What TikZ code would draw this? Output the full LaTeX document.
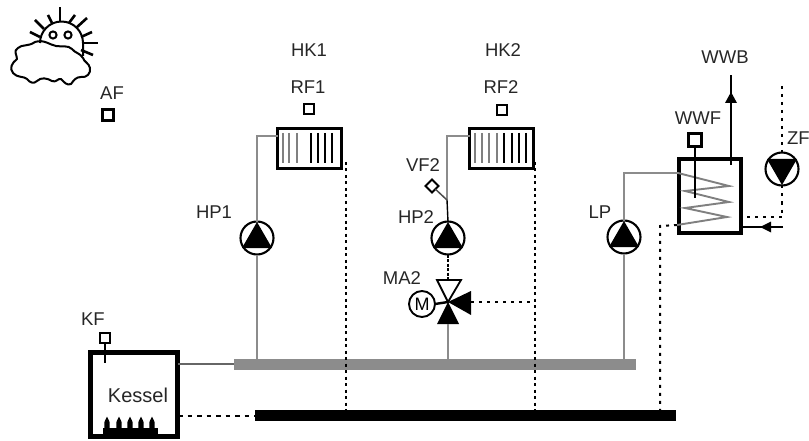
\documentclass[tikz,border=0pt]{standalone}
\usepackage{fontspec}
\setmainfont{Liberation Sans}
\usetikzlibrary{shapes.geometric,arrows.meta}
\tikzset{
  lab/.style={inner sep=0pt,outer sep=0pt,font=\fontsize{18.5}{20}\selectfont,text=black!85},
  sensor/.style={draw=black,line width=2.2pt,fill=white,minimum size=10pt,inner sep=0pt,outer sep=0pt},
  radbox/.style={draw=black,line width=2.4pt,fill=white,minimum width=64pt,minimum height=40pt,inner sep=0pt,outer sep=0pt},
  pumpc/.style={circle,draw=black,line width=2.1pt,fill=white,minimum size=33pt,inner sep=0pt,outer sep=0pt},
  pipe/.style={draw=black!45,line width=2.3pt},
  thinblk/.style={draw=black,line width=1.4pt},
  ctrl/.style={draw=black,line width=2pt,dash pattern=on 4.5pt off 5pt},
  fin/.style={draw=black,line width=1.3pt},
  finG/.style={draw=black!50,line width=1.3pt},
  sunline/.style={draw=black,line width=2pt,line join=round},
}
\newcommand{\pumpU}[3]{\node[pumpc] (#1) at (#2,#3) {};
  \fill[black] (#2,#3-16) -- (#2+15,#3+10) -- (#2-15,#3+10) -- cycle;}
\newcommand{\pumpD}[3]{\node[pumpc] (#1) at (#2,#3) {};
  \fill[black] (#2,#3+16) -- (#2+15,#3-10) -- (#2-15,#3-10) -- cycle;}
\begin{document}
\begin{tikzpicture}[x=1pt,y=-1pt]
\useasboundingbox (0,0) rectangle (809,441);
% sun and cloud
\draw[sunline] (40,43) arc[start angle=180,end angle=360,radius=21.5] -- (83,56);
\foreach \xa/\ya/\xb/\yb in {60/21/60/7,52/23/48/15,44/29/35/20,40/37/30/32,69/23/75/15,76/28/87/18,81/37/92/32,83/43/98/43,81/50/93/55}
  \draw[sunline,line width=2.6pt] (\xa,\ya) -- (\xb,\yb);
\draw[sunline] (53,35) circle[radius=3.6] (68,35) circle[radius=3.6];
\draw[sunline] (35,42) .. controls (28,47) and (22,44) .. (18,48) .. controls (13,51) and (17,55) .. (17,59)
  .. controls (12,63) and (9,68) .. (13,73) .. controls (17,78) and (24,76) .. (27,79)
  .. controls (30,83) and (34,84) .. (37,81) .. controls (41,77) and (47,78) .. (52,81)
  .. controls (56,83) and (58,78) .. (61,79) .. controls (64,82) and (67,86) .. (71,84)
  .. controls (74,80) and (76,77) .. (81,77) .. controls (87,78) and (91,73) .. (90,68)
  .. controls (89,63) and (84,62) .. (83,58) .. controls (80,53) and (75,53) .. (72,49)
  .. controls (68,45) and (62,47) .. (56,46) .. controls (50,45) and (44,39) .. (35,42) -- cycle;
% outside sensor
\node[lab] (af) at (112,93) {AF};
\node[sensor,minimum size=11pt] (afs) at (108,115) {};
% labels
\node[lab] (hk1) at (309,50) {HK1};
\node[lab] (hk2) at (503,50) {HK2};
\node[lab] (rf1) at (308,87) {RF1};
\node[lab] (rf2) at (501,87) {RF2};
\node[sensor] (rf1s) at (309,109) {};
\node[sensor] (rf2s) at (502,110) {};
\node[lab] (hp1l) at (214,212) {HP1};
\node[lab] (hp2l) at (416,217) {HP2};
\node[lab] (vf2l) at (423,165) {VF2};
\node[lab] (ma2l) at (402,278) {MA2};
\node[lab] (lpl) at (600,212) {LP};
\node[lab] (wwfl) at (698,118) {WWF};
\node[lab] (wwbl) at (725,57) {WWB};
\node[lab,anchor=west] (zfl) at (787,138) {ZF};
\node[lab,anchor=west] (kfl) at (81,319) {KF};
% buses
\node[fill=black!45,minimum width=402pt,minimum height=11pt,inner sep=0pt,outer sep=0pt] (bus) at (435,364.5) {};
\node[fill=black,minimum width=421pt,minimum height=11pt,inner sep=0pt,outer sep=0pt] (bar) at (465.5,415.5) {};
% radiators
\node[radbox] (rad1) at (309.5,148.5) {};
\node[radbox] (rad2) at (501.5,148.5) {};
\foreach \x in {283,289,297}\draw[finG] (\x,133) -- (\x,163);
\foreach \x in {311,318,325,332}\draw[fin] (\x,133) -- (\x,163);
\foreach \x in {475,482,489,497}\draw[finG] (\x,133) -- (\x,163);
\foreach \x in {504,512,519,526}\draw[fin] (\x,133) -- (\x,163);
% pumps
\pumpU{hp1}{257}{238}
\pumpU{hp2}{448}{238}
\pumpU{lp}{624}{237}
\pumpD{zp}{782}{169}
% HK1 piping
\coordinate (c1) at (257,136);
\draw[pipe] (hp1.north) -- (c1) -- (c1 -| rad1.west);
\draw[pipe] (hp1.south) -- (hp1.south |- bus.north);
% mixing valve
\coordinate (vc) at (448,302);
\node[circle,draw=black,line width=1.9pt,fill=white,minimum size=26pt,inner sep=0pt,outer sep=0pt,font=\fontsize{18}{20}\selectfont] (mot) at (422,304) {M};
\draw[line width=2.4pt] (mot.east) -- (vc);
\draw[black,line width=1.8pt,fill=white,line join=miter] (vc) -- (461,280) -- (437,280) -- cycle;
\fill[black] (vc) -- (459,324) -- (437,324) -- cycle;
\fill[black] (vc) -- (471,291) -- (471,315) -- cycle;
\coordinate (vt) at (448,280);
\coordinate (vb) at (448,324);
\coordinate (vr) at (471,302);
% HK2 piping
\coordinate (c2) at (447,136);
\coordinate (c2b) at (447,200);
\draw[pipe] (c2b) -- (c2) -- (c2 -| rad2.west);
\draw[thinblk] (c2b) -- (hp2.north);
\draw[black,line width=1.3pt,dash pattern=on 3pt off 1.5pt] (hp2.south) -- (vt);
\draw[pipe] (vb) -- (vb |- bus.north);
\node[diamond,draw=black,line width=2pt,fill=white,minimum size=13pt,inner sep=0pt,outer sep=0pt] (vf2) at (432,186) {};
\draw[black!70,line width=1.5pt] (vf2) -- (c2b);
\draw[ctrl,dash pattern=on 3pt off 5pt] (vr) -- (vr -| rad2.east);
% return dotted lines
\coordinate (r1) at (346,162);
\coordinate (r2) at (535,162);
\draw[ctrl,dash pattern=on 3pt off 3.5pt] (r1) -- (r1 |- bar.north);
\draw[ctrl,dash pattern=on 3pt off 3.5pt] (r2) -- (r2 |- bar.north);
% boiler
\node[draw=black,line width=5pt,fill=white,minimum width=87pt,minimum height=84pt,inner sep=0pt,outer sep=0pt] (kessel) at (133.5,394) {};
\node[lab,font=\fontsize{20}{22}\selectfont] (ktext) at (138,395) {Kessel};
\node[sensor,minimum size=10pt] (kfs) at (105,338) {};
\draw[black,line width=1.6pt] (kfs.south) -- (105,363);
\fill[black] (103,428) -- (158,428) -- (158,436) -- (103,436) -- cycle;
\foreach \x in {107,119,130,141,152}
  \fill[black] (\x-2.6,429) -- (\x-2.6,422) -- (\x,416.5) -- (\x+2.6,422) -- (\x+2.6,429) -- cycle;
\coordinate (kout) at (178,364);
\draw[black!60,line width=1.4pt] (kout) -- (kout -| bus.west);
\coordinate (kret) at (178,415.5);
\draw[ctrl] (kret) -- (kret -| bar.west);
% tank
\node[draw=black,line width=3.8pt,fill=white,minimum width=62pt,minimum height=74pt,inner sep=0pt,outer sep=0pt] (tank) at (710,196) {};
\coordinate (c3) at (623,173);
\draw[pipe] (lp.north) -- (lp.north |- c3) -- (678,173);
\draw[pipe] (lp.south) -- (lp.south |- bus.north);
\draw[draw=black!50,line width=1.9pt] (678,173) -- (729,186) -- (685,191) -- (729,202) -- (685,208) -- (727,217) -- (677,225);
\node[sensor,minimum size=13pt] (wwfs) at (695,140) {};
\draw[black,line width=1.6pt] (wwfs.south) -- (695,198);
\coordinate (t1) at (660,226);
\draw[ctrl,dash pattern=on 3pt off 5pt] (677,225) -- (t1) -- (t1 |- bar.north);
% WWB
\coordinate (wwbtop) at (731,75);
\coordinate (wwbin) at (731,165);
\draw[black,line width=2pt] (wwbin) -- (wwbtop);
\fill[black] (731,92) -- (737,103) -- (725,103) -- cycle;
% ZP
\coordinate (z0) at (782,86);
\coordinate (z1) at (782,217);
\draw[ctrl,dash pattern=on 3pt off 5pt] (z0) -- (zp.north);
\draw[ctrl,dash pattern=on 3pt off 5pt] (zp.south) -- (z1) -- (742,217);
% cold inlet
\coordinate (cw) at (783,227);
\coordinate (cwi) at (742,227);
\draw[black,line width=2.2pt] (cw) -- (cwi);
\fill[black] (760,227) -- (771,221.5) -- (771,232.5) -- cycle;
\end{tikzpicture}
\end{document}
